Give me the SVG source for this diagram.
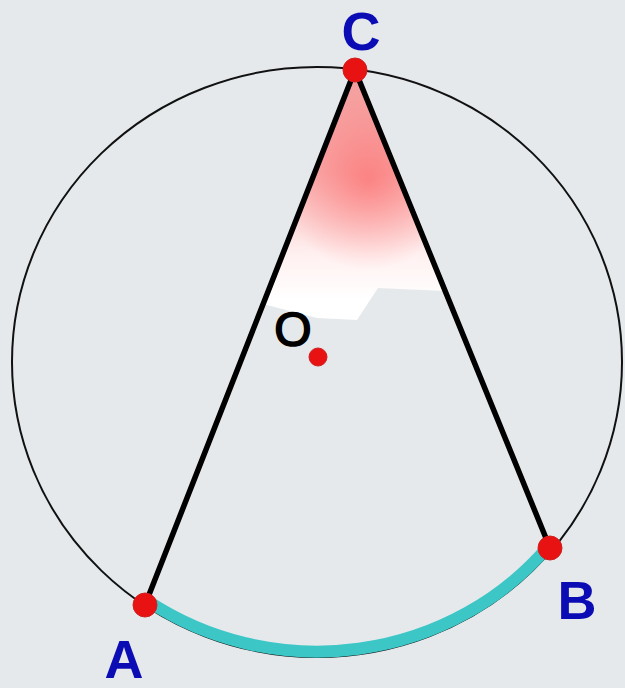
<svg xmlns="http://www.w3.org/2000/svg" width="625" height="688" viewBox="0 0 625 688">
  <defs>
    <style>
      .lbl { font-family: "Liberation Sans", Arial, sans-serif; font-weight: bold; font-size: 54px; fill: #0c0cb4; text-anchor: middle; }
      .olbl { font-family: "Liberation Sans", Arial, sans-serif; font-size: 48px; fill: #000; stroke: #000; stroke-width: 1.6; text-anchor: middle; }
      .chord { stroke: #000; stroke-width: 5.5; stroke-linecap: round; fill: none; }
      .dot { fill: #e81212; stroke: #d02020; stroke-width: 1; }
    </style>
    <linearGradient id="fade" x1="0" y1="70" x2="0" y2="300" gradientUnits="userSpaceOnUse">
      <stop offset="0" stop-color="#f59a9a"/>
      <stop offset="0.45" stop-color="#f8b8b8"/>
      <stop offset="0.8" stop-color="#fff0f0"/>
      <stop offset="1" stop-color="#ffffff"/>
    </linearGradient>
    <radialGradient id="glow" cx="368" cy="180" r="90" gradientUnits="userSpaceOnUse">
      <stop offset="0" stop-color="#ff4a4a" stop-opacity="0.5"/>
      <stop offset="1" stop-color="#ff4a4a" stop-opacity="0"/>
    </radialGradient>
  </defs>
  <rect width="625" height="688" fill="#e5e9ec"/>
  <g id="angle-shade">
    <polygon points="355,72 263,304 317,318 357,320 378,288 445,291" fill="url(#fade)"/>
    <polygon points="355,72 263,304 317,318 357,320 378,288 445,291" fill="url(#glow)"/>
  </g>
  <ellipse id="circle" cx="317" cy="362" rx="305" ry="295" fill="none" stroke="#111" stroke-width="2"/>
  <g id="connectors">
    <path d="M147.8,601 A300,290 0 0 0 548.3,546.4" fill="none" stroke="#3cc6c6" stroke-width="12"/>
    <line class="chord" x1="355" y1="70" x2="145" y2="605"/>
    <line class="chord" x1="355" y1="70" x2="550" y2="548"/>
  </g>
  <g id="C">
    <circle class="dot" cx="355" cy="70" r="12"/>
    <text class="lbl" x="361" y="50">C</text>
  </g>
  <g id="A">
    <circle class="dot" cx="145" cy="605" r="12"/>
    <text class="lbl" x="124" y="678">A</text>
  </g>
  <g id="B">
    <circle class="dot" cx="550" cy="548" r="12"/>
    <text class="lbl" x="577" y="619">B</text>
  </g>
  <g id="O">
    <circle class="dot" cx="318" cy="357" r="9"/>
    <text class="olbl" x="293" y="346">O</text>
  </g>
</svg>
